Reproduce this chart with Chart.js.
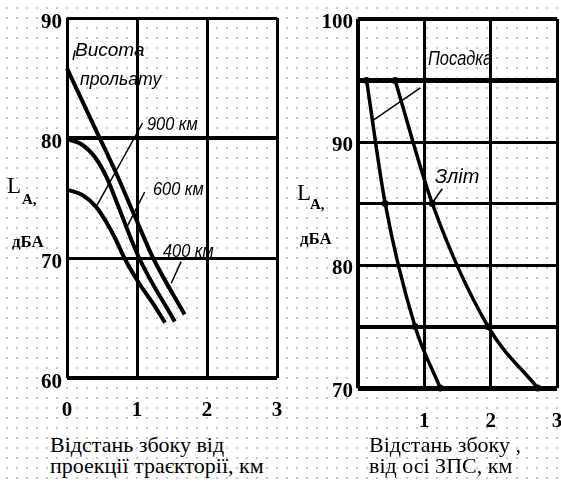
<!DOCTYPE html>
<html>
<head>
<meta charset="utf-8">
<script src="https://cdn.jsdelivr.net/npm/chart.js@4.4.0/dist/chart.umd.min.js"></script>
<style>
  html, body { margin: 0; padding: 0; }
  body {
    width: 561px; height: 481px; position: relative; overflow: hidden;
    background-color: #fff;
    background-image: radial-gradient(circle, #c6c6c6 0.8px, transparent 1.3px);
    background-size: 10px 10px;
    background-position: 2px 3px;
  }
  canvas { position: absolute; top: 0; }
  #left { left: 0; }
  #right { left: 282px; }
  .note { position: absolute; font-family: "Liberation Sans", Arial, sans-serif; font-style: italic;
          line-height: 1; white-space: nowrap; color: #000; transform-origin: 0 0; }
  .ax { position: absolute; font-family: "Liberation Serif", "Times New Roman", serif; font-weight: bold;
        line-height: 1; white-space: nowrap; color: #000; }
  .cap { position: absolute; font-family: "Liberation Serif", "Times New Roman", serif; font-size: 22px;
         line-height: 21px; white-space: nowrap; color: #000; }
</style>
</head>
<body>
<canvas id="left" width="282" height="430"></canvas>
<canvas id="right" width="279" height="440"></canvas>

<div class="note" style="left:75px;top:40px;font-size:19px">Висота</div>
<div class="note" style="left:80px;top:69px;font-size:19px;transform:scaleX(.93)">прольату</div>
<div class="note" style="left:147px;top:114px;font-size:19px;transform:scaleX(.86)">900 км</div>
<div class="note" style="left:153px;top:179px;font-size:19px;transform:scaleX(.86)">600 км</div>
<div class="note" style="left:163px;top:241px;font-size:19px;transform:scaleX(.86)">400 км</div>
<div class="note" style="left:428px;top:47px;font-size:21px;transform:scaleX(.78)">Посадка</div>
<div class="note" style="left:435px;top:165px;font-size:21px;transform:scaleX(.95)">Зліт</div>

<div class="ax" style="left:7px;top:174px;font-size:23px;font-weight:normal">L</div>
<div class="ax" style="left:22px;top:192px;font-size:15px">A,</div>
<div class="ax" style="left:12px;top:233px;font-size:17px">дБА</div>
<div class="ax" style="left:297px;top:181px;font-size:23px;font-weight:normal">L</div>
<div class="ax" style="left:310px;top:197px;font-size:15px">A,</div>
<div class="ax" style="left:300px;top:230px;font-size:17px">дБА</div>

<div class="cap" style="left:50px;top:434px">Відстань збоку від<br>проекції траєкторії, км</div>
<div class="cap" style="left:369px;top:434px">Відстань збоку ,<br>від осі ЗПС, км</div>

<script>
// left chart: noise level vs distance from the flight track projection
const leftTicksX = [0, 1, 2, 3];
const leftTicksY = [60, 70, 80, 90];
const alt900X = [0, 0.41, 0.70, 0.96, 1.23, 1.68];
const alt900Y = [85.8, 80.7, 77.1, 73.6, 70.0, 65.3];
const alt600X = [0, 0.2, 0.4, 0.56, 0.72, 1.03, 1.54];
const alt600Y = [79.9, 79.5, 78.4, 76.8, 74.5, 70.0, 64.7];
const alt400X = [0, 0.22, 0.41, 0.55, 0.70, 0.82, 1.03, 1.23, 1.40];
const alt400Y = [75.7, 75.25, 74.3, 73.1, 71.5, 70.0, 67.9, 66.2, 64.6];
// leader lines from the labels (x pairs / y pairs)
const leadAltX = [0.087, 0.115];
const leadAltY = [86.5, 87.3];
const lead900X = [1.08, 0.43];
const lead900Y = [81.25, 74.4];
const lead600X = [1.11, 0.84];
const lead600Y = [75.5, 72.4];
const lead400X = [1.63, 1.49];
const lead400Y = [69.7, 67.9];

// right chart: noise level vs distance from the runway axis
const rightTicksX = [1, 2, 3];
const rightTicksY = [70, 80, 90, 100];
const landingX = [0.13, 0.41, 0.86, 1.24];
const landingY = [95, 85, 75, 70];
const takeoffX = [0.56, 1.12, 1.96, 2.71];
const takeoffY = [95, 85, 75, 70];
const leadLandX = [0.94, 0.21];
const leadLandY = [94.4, 91.7];
const leadTakeX = [1.27, 1.14];
const leadTakeY = [86.2, 85.2];

function pts(xs, ys) {
  return xs.map((x, i) => ({ x: x, y: ys[i] }));
}

function curve(xs, ys, w) {
  return {
    data: pts(xs, ys), borderColor: '#000', borderWidth: w, pointRadius: 0,
    cubicInterpolationMode: 'monotone', clip: false
  };
}

function dotted(xs, ys, w) {
  return {
    data: pts(xs, ys), borderColor: '#000', borderWidth: w,
    pointRadius: 3.5, pointBackgroundColor: '#000', pointBorderWidth: 0,
    cubicInterpolationMode: 'monotone', clip: false
  };
}

function leader(xs, ys) {
  return { data: pts(xs, ys), borderColor: '#000', borderWidth: 1.5, pointRadius: 0, tension: 0, clip: false };
}

const tickFont = { family: '"Liberation Serif", "Times New Roman", serif', weight: 'bold', size: 21 };

const leftWidthsY = { 60: 4, 70: 3, 80: 4, 90: 3 };
const rightWidthsY = { 70: 5, 75: 4, 80: 3, 85: 3, 90: 3, 95: 5, 100: 4 };

// keep the x axis from shrinking the plot for its end labels
function fitX(s) {
  s.height = 52;
  s.paddingLeft = 0;
  s.paddingRight = 0;
}

new Chart(document.getElementById('left'), {
  type: 'line',
  data: {
    datasets: [
      curve(alt900X, alt900Y, 4),
      curve(alt600X, alt600Y, 4),
      curve(alt400X, alt400Y, 4),
      leader(leadAltX, leadAltY),
      leader(lead900X, lead900Y),
      leader(lead600X, lead600Y),
      leader(lead400X, lead400Y)
    ]
  },
  options: {
    responsive: false,
    animation: false,
    events: [],
    layout: { padding: { top: 18, right: 5, bottom: 0, left: 0 } },
    plugins: { legend: { display: false }, tooltip: { enabled: false } },
    scales: {
      x: {
        type: 'linear', min: 0, max: 3,
        afterFit: fitX,
        afterBuildTicks: s => { s.ticks = leftTicksX.map(v => ({ value: v })); },
        border: { display: false },
        grid: { color: '#000', lineWidth: 3, drawTicks: false },
        ticks: { color: '#000', font: tickFont, padding: 20, maxRotation: 0 }
      },
      y: {
        type: 'linear', min: 60, max: 90,
        afterFit: s => { s.width = 67; },
        afterBuildTicks: s => { s.ticks = leftTicksY.map(v => ({ value: v })); },
        border: { display: false },
        grid: { color: '#000', lineWidth: c => leftWidthsY[c.tick.value] || 3, drawTicks: false },
        ticks: { color: '#000', font: tickFont, padding: 5, labelOffset: 5 }
      }
    }
  }
});

new Chart(document.getElementById('right'), {
  type: 'line',
  data: {
    datasets: [
      dotted(landingX, landingY, 3.5),
      dotted(takeoffX, takeoffY, 3.5),
      leader(leadLandX, leadLandY),
      leader(leadTakeX, leadTakeY)
    ]
  },
  options: {
    responsive: false,
    animation: false,
    events: [],
    layout: { padding: { top: 19, right: 4, bottom: 0, left: 0 } },
    plugins: { legend: { display: false }, tooltip: { enabled: false } },
    scales: {
      x: {
        type: 'linear', min: 0, max: 3,
        afterFit: fitX,
        afterBuildTicks: s => { s.ticks = [0].concat(rightTicksX).map(v => ({ value: v })); },
        border: { display: false },
        grid: { color: '#000', lineWidth: c => (c.tick.value === 0 ? 4 : 3), drawTicks: false },
        ticks: {
          color: '#000', font: tickFont, padding: 21, maxRotation: 0,
          callback: v => (rightTicksX.includes(v) ? v : '')
        }
      },
      y: {
        type: 'linear', min: 70, max: 100,
        afterFit: s => { s.width = 76; },
        ticks: {
          color: '#000', font: tickFont, padding: 5, labelOffset: 4, stepSize: 5,
          callback: v => (rightTicksY.includes(v) ? v : '')
        },
        border: { display: false },
        grid: { color: '#000', lineWidth: c => rightWidthsY[c.tick.value] || 3, drawTicks: false }
      }
    }
  }
});
</script>
</body>
</html>
